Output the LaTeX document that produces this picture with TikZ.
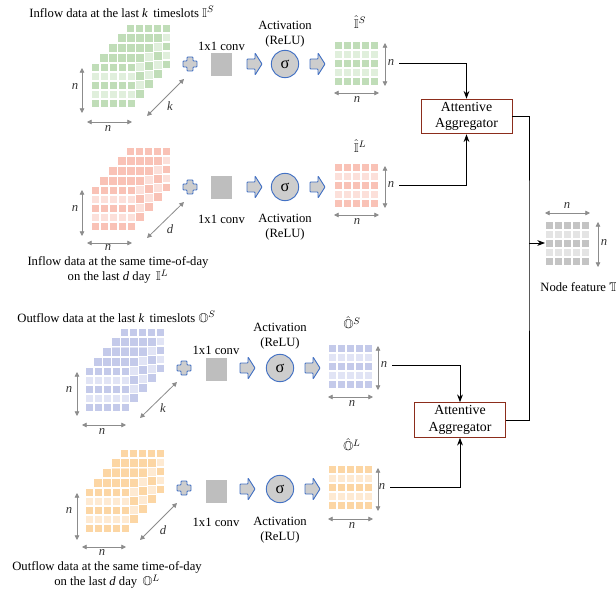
\documentclass[tikz,border=0pt]{standalone}
\usepackage{amssymb}
\usepackage{fontspec}
\setmainfont{Liberation Serif}
\usetikzlibrary{positioning,calc,arrows.meta}
\tikzset{>=Stealth}
\definecolor{grnD}{RGB}{192,221,184}
\definecolor{grnL}{RGB}{224,239,220}
\definecolor{pnkD}{RGB}{249,194,182}
\definecolor{pnkL}{RGB}{252,224,218}
\definecolor{bluD}{RGB}{196,202,234}
\definecolor{bluL}{RGB}{225,228,245}
\definecolor{orgD}{RGB}{252,214,164}
\definecolor{orgL}{RGB}{254,234,210}
\definecolor{gryD}{RGB}{196,196,196}
\definecolor{gryL}{RGB}{228,228,228}
\definecolor{convgray}{RGB}{190,190,190}
\definecolor{icongray}{RGB}{205,205,205}
\definecolor{iconblue}{RGB}{68,114,196}
\definecolor{aggred}{RGB}{140,45,28}
\definecolor{dimgray}{RGB}{140,140,140}
% one 5x5 slice, top left corner at (#1,#2)
\newcommand*{\cellgrid}[4]{%
  \fill[white] ({#1},{#2}) rectangle ++(45,45);
  \foreach \r/\rc in {0/#3,1/#4,2/#3,3/#4,4/#3}
    \foreach \c in {0,...,4}
      \fill[\rc] ({#1+\c*9+0.6},{#2+\r*9+0.6}) rectangle ++(7.8,7.8);
}
% five slices, front slice at (#1,#2)
\newcommand*{\cellcube}[4]{%
  \foreach \l in {4,3,2,1,0}{\cellgrid{#1+\l*8.75}{#2-\l*9.75}{#3}{#4}}
}
\newcommand*{\plusmark}[2]{%
  \draw[iconst,shift={(#1,#2)}] (-3,-7) -- (3,-7) -- (3,-3) -- (7,-3) -- (7,3) -- (3,3)
    -- (3,7) -- (-3,7) -- (-3,3) -- (-7,3) -- (-7,-3) -- (-3,-3) -- cycle;
}
\newcommand*{\blockarr}[2]{%
  \draw[iconst,shift={(#1,#2)}] (0,-5) -- (8,-5) -- (8,-11) -- (15,0) -- (8,11) -- (8,5) -- (0,5) -- cycle;
}

\begin{document}
\begin{tikzpicture}[x=0.03cm,y=-0.03cm,
  iconst/.style={draw=iconblue,fill=icongray,line width=0.8pt,rounded corners=0.6pt},
  convbox/.style={fill=convgray,minimum width=0.63cm,minimum height=0.69cm,inner sep=0pt},
  actnode/.style={circle,draw=iconblue,fill=icongray,line width=0.8pt,minimum size=0.82cm,inner sep=0pt,
    font=\fontsize{14}{14}\selectfont},
  aggbox/.style={draw=aggred,line width=0.8pt,align=center,minimum width=2.73cm,minimum height=1.04cm,
    inner sep=1pt,font=\fontsize{11.8}{14}\selectfont},
  lbl/.style={align=center,inner sep=1pt,font=\fontsize{10.8}{13}\selectfont},
  dimlbl/.style={text=black!80,inner sep=1pt,font=\fontsize{10.8}{13}\selectfont},
  dimarr/.style={draw=dimgray,line width=0.7pt,{Triangle[length=4pt,width=4pt]}-{Triangle[length=4pt,width=4pt]}},
  conn/.style={line width=0.8pt,black}]
\useasboundingbox (0,0) rectangle (616,596);

%% inflow, last k timeslots
\node[lbl,anchor=west] (tinS) at (28,12) {Inflow data at the last \textit{k}\, timeslots $\mathbb{I}^{S}$};
\cellcube{91}{63}{grnD}{grnL}
\draw[dimarr] (82,68) -- (82,113);
\node[dimlbl] at (75,87) {\textit{n}};
\draw[dimarr] (87,122) -- (132,122);
\node[dimlbl] at (108,129) {\textit{n}};
\draw[dimarr] (147,116) -- (184,79);
\node[dimlbl] at (170,106) {\textit{k}};
\plusmark{190}{64}
\node[convbox] (convinS) at (221.5,65) {};
\node[lbl] at (221.5,46) {1x1 conv};
\blockarr{247}{64}
\node[actnode] (actinS) at (285,64) {σ};
\node[lbl] at (285,34) {Activation\\(ReLU)};
\blockarr{310}{64}
\cellgrid{334}{41}{grnD}{grnL}
\node[lbl] at (360,22) {$\hat{\mathbb{I}}^{S}$};
\draw[dimarr] (385,43) -- (385,86);
\node[dimlbl] (ninS) at (391,63) {\textit{n}};
\draw[dimarr] (334,93) -- (379,93);
\node[dimlbl] at (357,100) {\textit{n}};

%% inflow, same time of day
\cellcube{91}{186}{pnkD}{pnkL}
\draw[dimarr] (82,190) -- (82,236);
\node[dimlbl] at (75,209) {\textit{n}};
\draw[dimarr] (87,243) -- (132,243);
\node[dimlbl] at (108,248) {\textit{n}};
\draw[dimarr] (147,238) -- (184,202);
\node[dimlbl] at (170,229) {\textit{d}};
\node[lbl] (tinL) at (118,270) {Inflow data at the same time-of-day\\on the last \textit{d} day\, $\mathbb{I}^{L}$};
\plusmark{190}{187}
\node[convbox] (convinL) at (221.5,188) {};
\node[lbl] at (221.5,219) {1x1 conv};
\blockarr{247}{187}
\node[actnode] (actinL) at (285,187) {σ};
\node[lbl] at (285,227) {Activation\\(ReLU)};
\blockarr{310}{187}
\cellgrid{334}{163}{pnkD}{pnkL}
\node[lbl] at (360,146) {$\hat{\mathbb{I}}^{L}$};
\draw[dimarr] (385,166) -- (385,208);
\node[dimlbl] (ninL) at (391,185) {\textit{n}};
\draw[dimarr] (334,215) -- (379,215);
\node[dimlbl] at (357,222) {\textit{n}};

%% outflow, last k timeslots
\node[lbl,anchor=west] (toutS) at (16,318) {Outflow data at the last \textit{k}\, timeslots $\mathbb{O}^{S}$};
\cellcube{85}{367}{bluD}{bluL}
\draw[dimarr] (77,372) -- (77,416);
\node[dimlbl] at (69,390) {\textit{n}};
\draw[dimarr] (82,425) -- (126,425);
\node[dimlbl] at (102,432) {\textit{n}};
\draw[dimarr] (140,418) -- (177,382);
\node[dimlbl] at (163,408) {\textit{k}};
\plusmark{184}{368}
\node[convbox] (convoutS) at (216,369) {};
\node[lbl] at (216,350) {1x1 conv};
\blockarr{240}{368}
\node[actnode] (actoutS) at (280,368) {σ};
\node[lbl] at (280,336) {Activation\\(ReLU)};
\blockarr{305}{368}
\cellgrid{328}{344}{bluD}{bluL}
\node[lbl] at (352,324) {$\hat{\mathbb{O}}^{S}$};
\draw[dimarr] (378,346) -- (378,390);
\node[dimlbl] (noutS) at (384,365) {\textit{n}};
\draw[dimarr] (328,397) -- (373,397);
\node[dimlbl] at (352,404) {\textit{n}};

%% outflow, same time of day
\cellcube{85}{488}{orgD}{orgL}
\draw[dimarr] (77,493) -- (77,540);
\node[dimlbl] at (69,511) {\textit{n}};
\draw[dimarr] (82,547) -- (126,547);
\node[dimlbl] at (102,553) {\textit{n}};
\draw[dimarr] (140,540) -- (177,503);
\node[dimlbl] at (163,530) {\textit{d}};
\node[lbl] (toutL) at (107,575) {Outflow data at the same time-of-day\\on the last \textit{d} day\, $\mathbb{O}^{L}$};
\plusmark{184}{488}
\node[convbox] (convoutL) at (216,491) {};
\node[lbl] at (216,522) {1x1 conv};
\blockarr{240}{489}
\node[actnode] (actoutL) at (280,489) {σ};
\node[lbl] at (280,530) {Activation\\(ReLU)};
\blockarr{305}{489}
\cellgrid{328}{465}{orgD}{orgL}
\node[lbl] at (352,446) {$\hat{\mathbb{O}}^{L}$};
\draw[dimarr] (378,468) -- (378,511);
\node[dimlbl] (noutL) at (382,487) {\textit{n}};
\draw[dimarr] (328,519) -- (373,519);
\node[dimlbl] at (352,526) {\textit{n}};

%% aggregators and node feature
\node[aggbox] (agg1) at (466.5,116.5) {Attentive\\Aggregator};
\node[aggbox] (agg2) at (460,420) {Attentive\\Aggregator};
\draw[conn,->] ([xshift=3pt]ninS.east) -| (agg1.north);
\draw[conn,->] ([xshift=3pt]ninL.east) -| (agg1.south);
\draw[conn,->] ([xshift=3pt]noutS.east) -| (agg2.north);
\draw[conn,->] ([xshift=3pt]noutL.east) -| (agg2.south);
\coordinate (bus) at (529,243);
\draw[conn] (agg1.east) -| (bus) |- (agg2.east);
\cellgrid{545}{221}{gryD}{gryL}
\coordinate (feat) at (545,243);
\draw[conn,->] (bus) -- (feat);
\draw[dimarr] (545,213) -- (590,213);
\node[dimlbl] at (567,206) {\textit{n}};
\draw[dimarr] (598,222) -- (598,267);
\node[dimlbl] at (604,243) {\textit{n}};
\node[lbl,anchor=west] (tfeat) at (539,287) {Node feature $\mathbb{T}$};
\end{tikzpicture}
\end{document}
